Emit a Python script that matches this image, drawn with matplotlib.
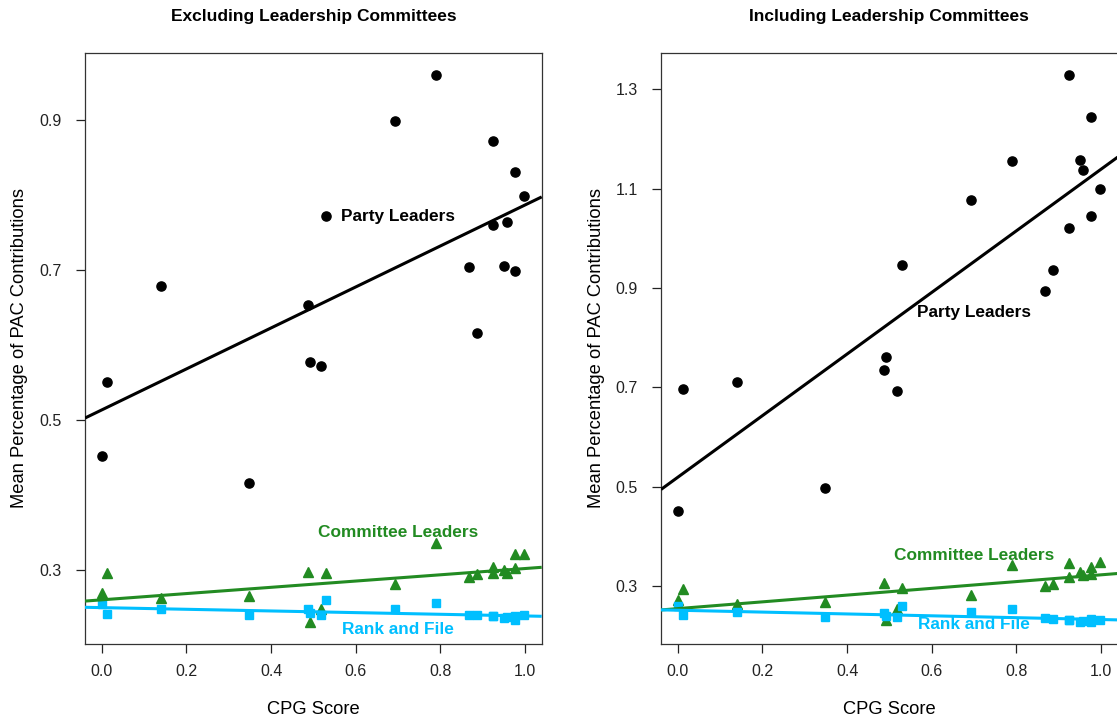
import matplotlib
matplotlib.use("Agg")
import matplotlib.pyplot as plt
import numpy as np

plt.rcParams['font.family'] = ['Liberation Sans', 'DejaVu Sans']

# ---- data ----
cpg = [0.000, 0.012, 0.139, 0.349, 0.487, 0.491, 0.518, 0.531, 0.692, 0.791,
       0.869, 0.888, 0.924, 0.924, 0.950, 0.957, 0.977, 0.978, 0.998]

excl_party = [0.451, 0.550, 0.678, 0.415, 0.653, 0.577, 0.571, 0.771, 0.898, 0.960,
              0.704, 0.615, 0.872, 0.760, 0.705, 0.764, 0.830, 0.698, 0.798]
excl_comm = [0.269, 0.295, 0.262, 0.265, 0.297, 0.230, 0.248, 0.296, 0.281, 0.336,
             0.290, 0.294, 0.303, 0.296, 0.300, 0.296, 0.321, 0.302, 0.321]
excl_rank = [0.254, 0.241, 0.247, 0.239, 0.247, 0.242, 0.239, 0.259, 0.247, 0.255,
             0.239, 0.239, 0.238, 0.238, 0.235, 0.237, 0.233, 0.238, 0.239]

incl_party = [0.451, 0.696, 0.711, 0.498, 0.735, 0.762, 0.693, 0.947, 1.078, 1.155,
              0.895, 0.936, 1.330, 1.020, 1.157, 1.138, 1.245, 1.045, 1.100]
incl_comm = [0.272, 0.293, 0.263, 0.268, 0.305, 0.231, 0.253, 0.295, 0.282, 0.342,
             0.299, 0.303, 0.346, 0.317, 0.327, 0.322, 0.339, 0.324, 0.348]
incl_rank = [0.259, 0.241, 0.248, 0.238, 0.246, 0.240, 0.238, 0.259, 0.247, 0.254,
             0.236, 0.234, 0.232, 0.232, 0.227, 0.229, 0.227, 0.233, 0.232]

# fitted lines (intercept, slope)
excl_fits = {'party': (0.513, 0.273), 'comm': (0.2597, 0.0417), 'rank': (0.2493, -0.0111)}
incl_fits = {'party': (0.519, 0.620), 'comm': (0.2542, 0.068), 'rank': (0.2509, -0.0187)}

titles = ["Excluding Leadership Committees", "Including Leadership Committees"]
group_names = ["Party Leaders", "Committee Leaders", "Rank and File"]
x_ticks = [0.0, 0.2, 0.4, 0.6, 0.8, 1.0]
excl_yticks = [0.3, 0.5, 0.7, 0.9]
incl_yticks = [0.3, 0.5, 0.7, 0.9, 1.1, 1.3]
excl_label_y = [0.771, 0.350, 0.220]
incl_label_y = [0.850, 0.3605, 0.2214]
label_x = 0.70

GREEN = '#228B22'
BLUE = '#00BFFF'

W, H = 1117, 723
fig = plt.figure(figsize=(W / 100, H / 100), dpi=100)

ax_w = 456.7 / W
ax_h = 591.3 / H
ax_b = (H - 644) / H
lefts = [85 / W, 661 / W]

panels = [
    (excl_party, excl_comm, excl_rank, excl_fits, excl_yticks, excl_label_y),
    (incl_party, incl_comm, incl_rank, incl_fits, incl_yticks, incl_label_y),
]

for i, (party, comm, rank, fits, yticks, label_y) in enumerate(panels):
    ax = fig.add_axes([lefts[i], ax_b, ax_w, ax_h])
    x = np.array(cpg)
    allv = np.concatenate([party, comm, rank])
    lo, hi = allv.min(), allv.max()
    r = hi - lo
    ax.set_ylim(lo - 0.04 * r, hi + 0.04 * r)
    ax.set_xlim(-0.04, 1.04)

    ax.plot(x, party, 'o', color='black', markersize=6.6, zorder=3)
    ax.plot(x, comm, '^', color=GREEN, markersize=7.5, zorder=3)
    ax.plot(x, rank, 's', color=BLUE, markersize=6.2, zorder=3)

    xl = np.array([-0.04, 1.04])
    for key, col in (('party', 'black'), ('comm', GREEN), ('rank', BLUE)):
        a, b = fits[key]
        ax.plot(xl, a + b * xl, '-', color=col, linewidth=2.2, zorder=4,
                solid_capstyle='butt')

    cols = ['black', GREEN, BLUE]
    for name, yv, col in zip(group_names, label_y, cols):
        ax.text(label_x, yv, name, color=col, fontsize=12.4, fontweight='bold',
                ha='center', va='center', zorder=5)

    ax.set_xticks(x_ticks)
    ax.set_xticklabels([f"{t:.1f}" for t in x_ticks])
    ax.set_yticks(yticks)
    ax.set_yticklabels([f"{t:.1f}" for t in yticks])
    ax.tick_params(axis='both', direction='out', length=6.5, width=0.9,
                   labelsize=11.5, colors='#222222')
    ax.tick_params(axis='x', pad=8)
    ax.tick_params(axis='y', pad=10)
    for s in ax.spines.values():
        s.set_linewidth(0.9)
        s.set_color('#333333')

    cx = lefts[i] + ax_w / 2
    fig.text(cx, 1 - 16 / H, titles[i], ha='center', va='center',
             fontsize=12.5, fontweight='bold')
    fig.text(cx, 1 - 710 / H, "CPG Score", ha='center', va='center', fontsize=13.2)
    fig.text(lefts[i] - 65 / W, ax_b + ax_h / 2,
             "Mean Percentage of PAC Contributions", rotation=90,
             ha='center', va='center', fontsize=13.2)

fig.savefig("out.png", dpi=100)
